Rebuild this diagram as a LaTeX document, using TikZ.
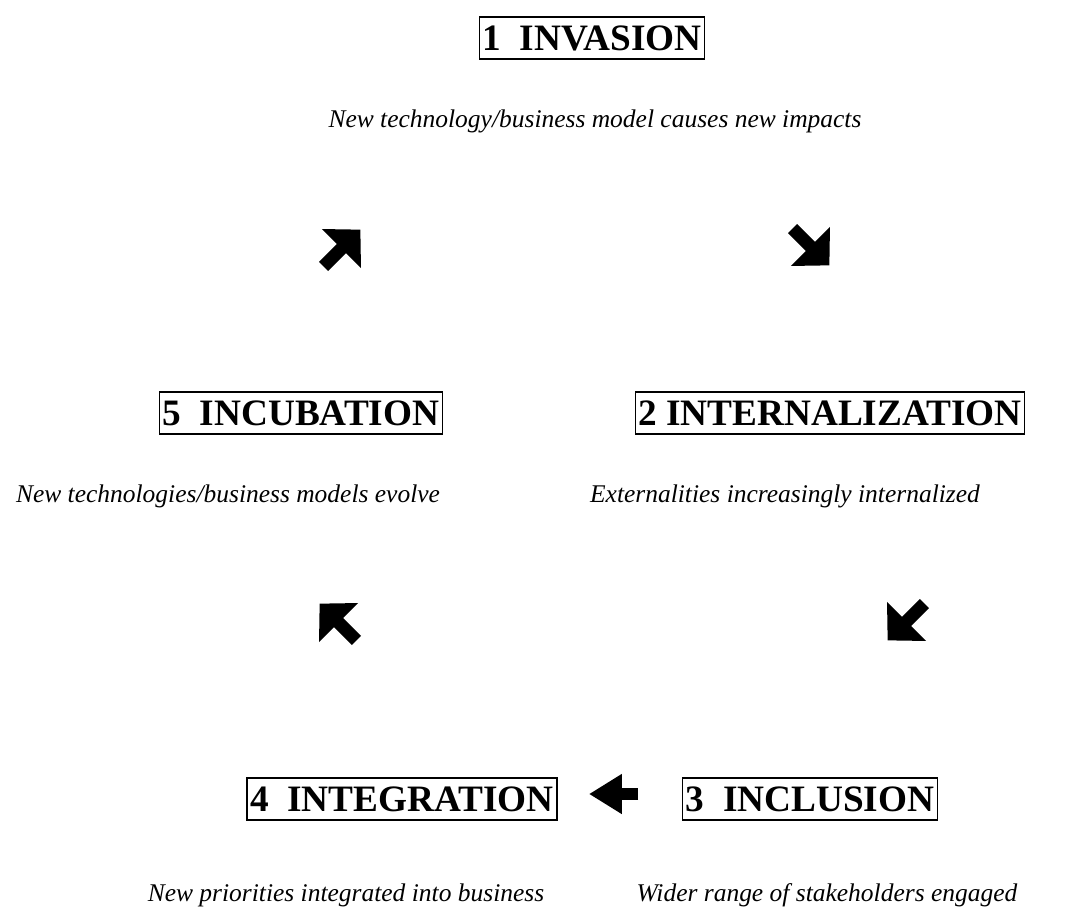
\documentclass[tikz,border=0pt]{standalone}
\usepackage{fontspec}
\setmainfont{Liberation Serif}
\usepackage{tikz}
\usetikzlibrary{arrows.meta, positioning}

\begin{document}
\begin{tikzpicture}[x=0.2mm, y=-0.2mm,
        stage/.style={draw, line width=0.7pt, font=\bfseries\fontsize{21.2}{24}\selectfont,
            text height=14pt, text depth=0pt, inner xsep=1.8pt, inner ysep=5pt},
        desc/.style={font=\itshape\fontsize{14.5}{17}\selectfont, anchor=base},
        diag/.style={line width=7.4pt, -{Triangle[length=15.3pt, width=30.6pt]}},
        flat/.style={line width=6.8pt, -{Triangle[length=18.7pt, width=21.5pt]}}]
            \useasboundingbox (0,0) rectangle (1078,909);
            
            % stages
            \node[stage] (s1) at (592, 38) {1\ \ INVASION};
            \node[stage] (s2) at (830, 413) {2 INTERNALIZATION};
            \node[stage] (s3) at (810, 799) {3\ \ INCLUSION};
            \node[stage] (s4) at (402, 799) {4\ \ INTEGRATION};
            \node[stage] (s5) at (301, 413) {5\ \ INCUBATION};
            
            \node[desc] (d1) at (595, 127) {New technology/business model causes new impacts};
            \node[desc] (d2) at (785, 502) {Externalities increasingly internalized};
            \node[desc] (d3) at (827, 901) {Wider range of stakeholders engaged};
            \node[desc] (d4) at (346, 901) {New priorities integrated into business};
            \node[desc] (d5) at (228, 502) {New technologies/business models evolve};
            
            % arrows
            \coordinate (a1) at (792.6, 228.6);
            \coordinate (b1) at (829.4, 265.4);
            \coordinate (a2) at (924.4, 603.6);
            \coordinate (b2) at (887.6, 640.4);
            \coordinate (a3) at (638, 794);
            \coordinate (b3) at (589, 794);
            \coordinate (a4) at (356.4, 640.4);
            \coordinate (b4) at (319.6, 603.6);
            \coordinate (a5) at (323.6, 266.4);
            \coordinate (b5) at (360.4, 229.6);
            
            \draw[diag] (a1) -- (b1);
            \draw[diag] (a2) -- (b2);
            \draw[flat] (a3) -- (b3);
            \draw[diag] (a4) -- (b4);
            \draw[diag] (a5) -- (b5);
        \end{tikzpicture}
\end{document}
